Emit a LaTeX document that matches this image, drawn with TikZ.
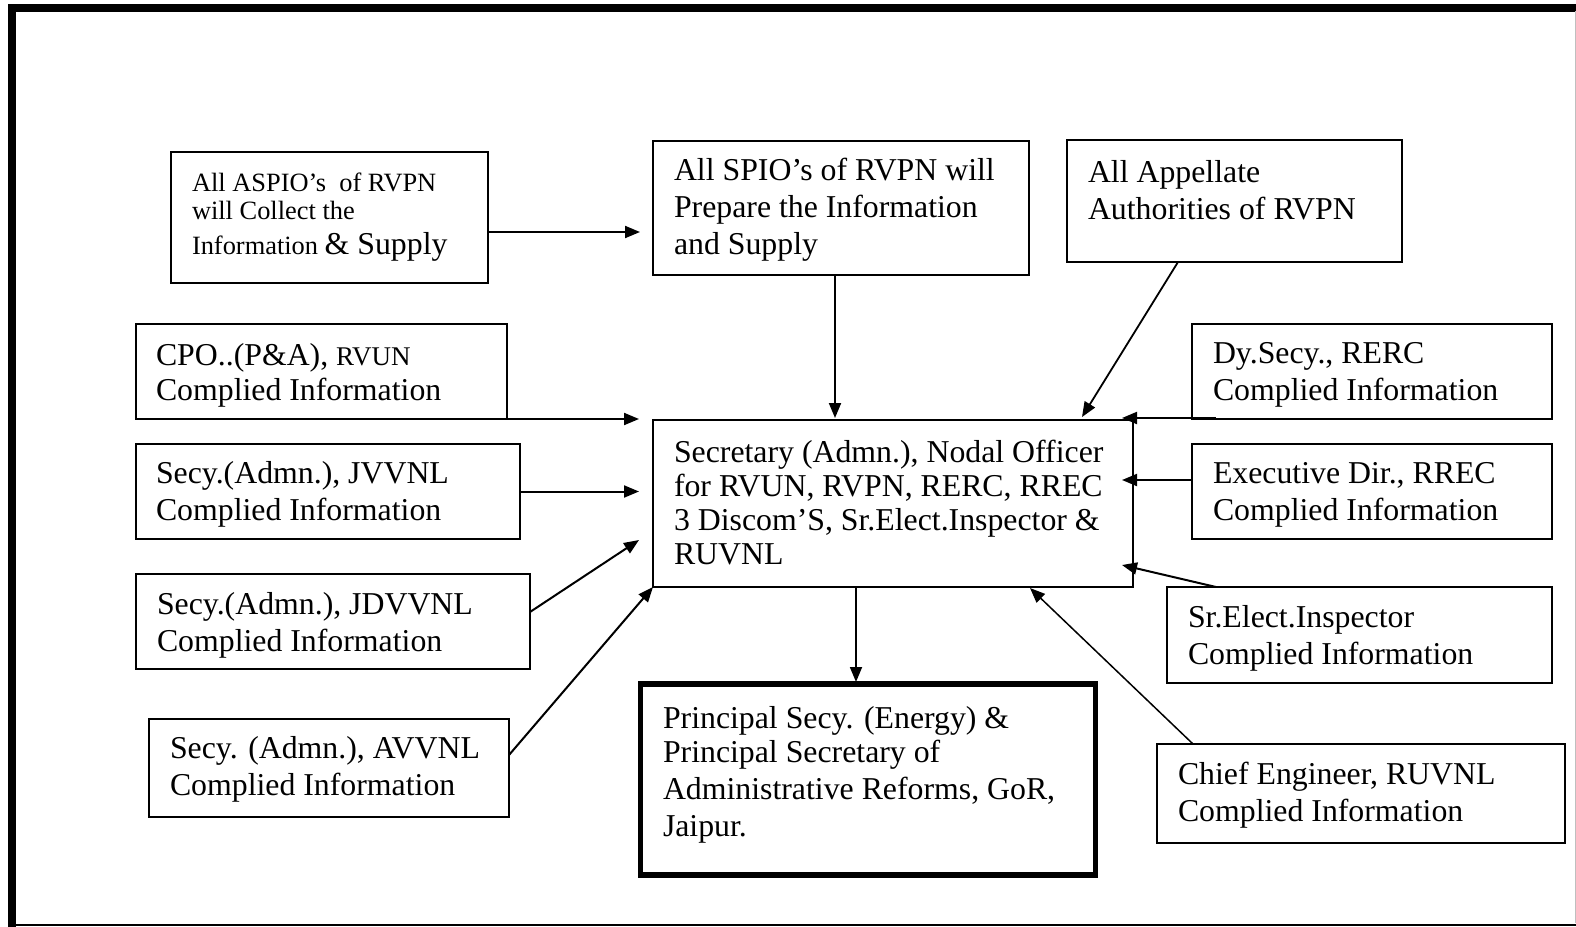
\documentclass[tikz,border=0pt]{standalone}
\usepackage{fontspec}
\setmainfont{Liberation Serif}
\usetikzlibrary{arrows.meta,calc}
\newcommand\tf{\fontsize{31.8pt}{37pt}\selectfont}
\newcommand\smallfnt{\fontsize{26.4pt}{32pt}\selectfont}
\begin{document}
\begin{tikzpicture}[x=1pt,y=-1pt,
 bx/.style={draw, line width=1.8pt, anchor=north west, inner sep=0pt, outer sep=0pt},
 txt/.style={anchor=north west, inner sep=0pt, outer sep=0pt, align=left, font=\tf},
 arr/.style={line width=2pt, -{Triangle[length=15pt,width=12pt]}},
 frame/.style={line width=8pt},
]
\useasboundingbox (0,0) rectangle (1576,926);
% outer frame (right and bottom sides fall mostly outside the picture)
\draw[frame, line cap=rect] (1576,7.5) -- (12,7.5) -- (12,926);
\draw[line width=2.5pt] (8,925) -- (1576,925);
\draw[line width=0.8pt, black!25] (1575.6,11) -- (1575.6,923);

% boxes
\node[bx, minimum width=317pt, minimum height=131pt] (aspio) at (171,152) {};
\node[bx, minimum width=376pt, minimum height=134pt] (spio) at (653,141) {};
\node[bx, minimum width=335pt, minimum height=122pt] (appel) at (1067,140) {};
\node[bx, minimum width=371pt, minimum height=95pt] (cpo) at (136,324) {};
\node[bx, minimum width=384pt, minimum height=95pt] (jv) at (136,444) {};
\node[bx, minimum width=394pt, minimum height=95pt] (jd) at (136,574) {};
\node[bx, minimum width=360pt, minimum height=98pt] (av) at (149,719) {};
\node[bx, minimum width=480pt, minimum height=167pt] (cen) at (653,420) {};
\node[bx, line width=5.5pt, minimum width=455pt, minimum height=191pt] (prin) at (640.5,684) {};
\node[bx, minimum width=360pt, minimum height=95pt] (dy) at (1192,324) {};
\node[bx, minimum width=360pt, minimum height=95pt] (ex) at (1192,444) {};
\node[bx, minimum width=385pt, minimum height=96pt] (sr) at (1167,587) {};
\node[bx, minimum width=408pt, minimum height=99pt] (ce) at (1157,744) {};

% texts
\node[txt, font=\smallfnt] (aspiot) at (192,168.6) {\strut All ASPIO’s\ \ of RVPN\\[-4pt]will Collect the\\[3pt]Information {\tf\& Supply}};
\node[txt] (spiot) at (674,154.1) {\strut All SPIO’s of RVPN will\\Prepare the Information\\and Supply};
\node[txt] (appelt) at (1088,156.1) {\strut All Appellate\\Authorities of RVPN};
\node[txt] (cpot) at (156,339.1) {\strut CPO..(P\&A), {\fontsize{27pt}{37pt}\selectfont RVUN}\\[-2pt]Complied Information};
\node[txt] (jvt) at (156,457.1) {\strut Secy.(Admn.), JVVNL\\Complied Information};
\node[txt] (jdt) at (157,588.1) {\strut Secy.(Admn.), JDVVNL\\Complied Information};
\node[txt] (avt) at (170,732.1) {\strut Secy. (Admn.), AVVNL\\Complied Information};
\node[txt] (cent) at (674,436.1) {\strut Secretary (Admn.), Nodal Officer\\[-3pt]for RVUN, RVPN, RERC, RREC\\[-3pt]3 Discom’S, Sr.Elect.Inspector \&\\[-3pt]RUVNL};
\node[txt] (dyt) at (1213,337.1) {\strut Dy.Secy., RERC\\Complied Information};
\node[txt] (ext) at (1213,457.1) {\strut Executive Dir., RREC\\Complied Information};
\node[txt] (srt) at (1188,601.1) {\strut Sr.Elect.Inspector\\Complied Information};
\node[txt] (cet) at (1178,758.1) {\strut Chief Engineer, RUVNL\\Complied Information};
\node[txt] (print) at (663,702.1) {\strut Principal Secy. (Energy) \&\\[-3pt]Principal Secretary of\\Administrative Reforms, GoR,\\Jaipur.};

% connectors
\draw[arr, shorten >=13pt] ($(aspio.east)+(0,14.5)$) coordinate (a1s) -- (a1s -| spio.west);
\draw[arr, shorten >=2pt] ($(spio.south)+(-6,0)$) coordinate (a2s) -- (a2s |- cen.north);
\draw[arr, line width=1.8pt] ($(appel.south)+(-56.5,0)$) -- ($(cen.north east)+(-51,-3)$);
\draw[arr] ($(dy.south west)+(24,-1)$) -- ($(cen.north east)+(-11,-2)$);
\draw[arr] ($(ex.west)+(0,-11.5)$) coordinate (a5s) -- ($(a5s -| cen.east)+(-11,0)$);
\draw[arr] ($(sr.north west)+(49,0)$) -- ($(cen.east)+(-11,61.5)$);
\draw[arr, line width=1.5pt] ($(ce.north west)+(36,0)$) -- ($(cen.south)+(137,1)$);
\draw[arr, line width=1.8pt, shorten >=2pt] ($(cen.south)+(-37,0)$) coordinate (a8s) -- (a8s |- prin.north);
\draw[arr, shorten >=14pt] (cpo.south east) -- (cpo.south east -| cen.west);
\draw[arr, shorten >=14pt] (jv.east) -- (jv.east -| cen.west);
\draw[arr] ($(jd.east)+(0,-9.5)$) -- ($(cen.west)+(-14,36.5)$);
\draw[arr] ($(av.east)+(0,-13)$) -- (cen.south west);
\end{tikzpicture}
\end{document}
